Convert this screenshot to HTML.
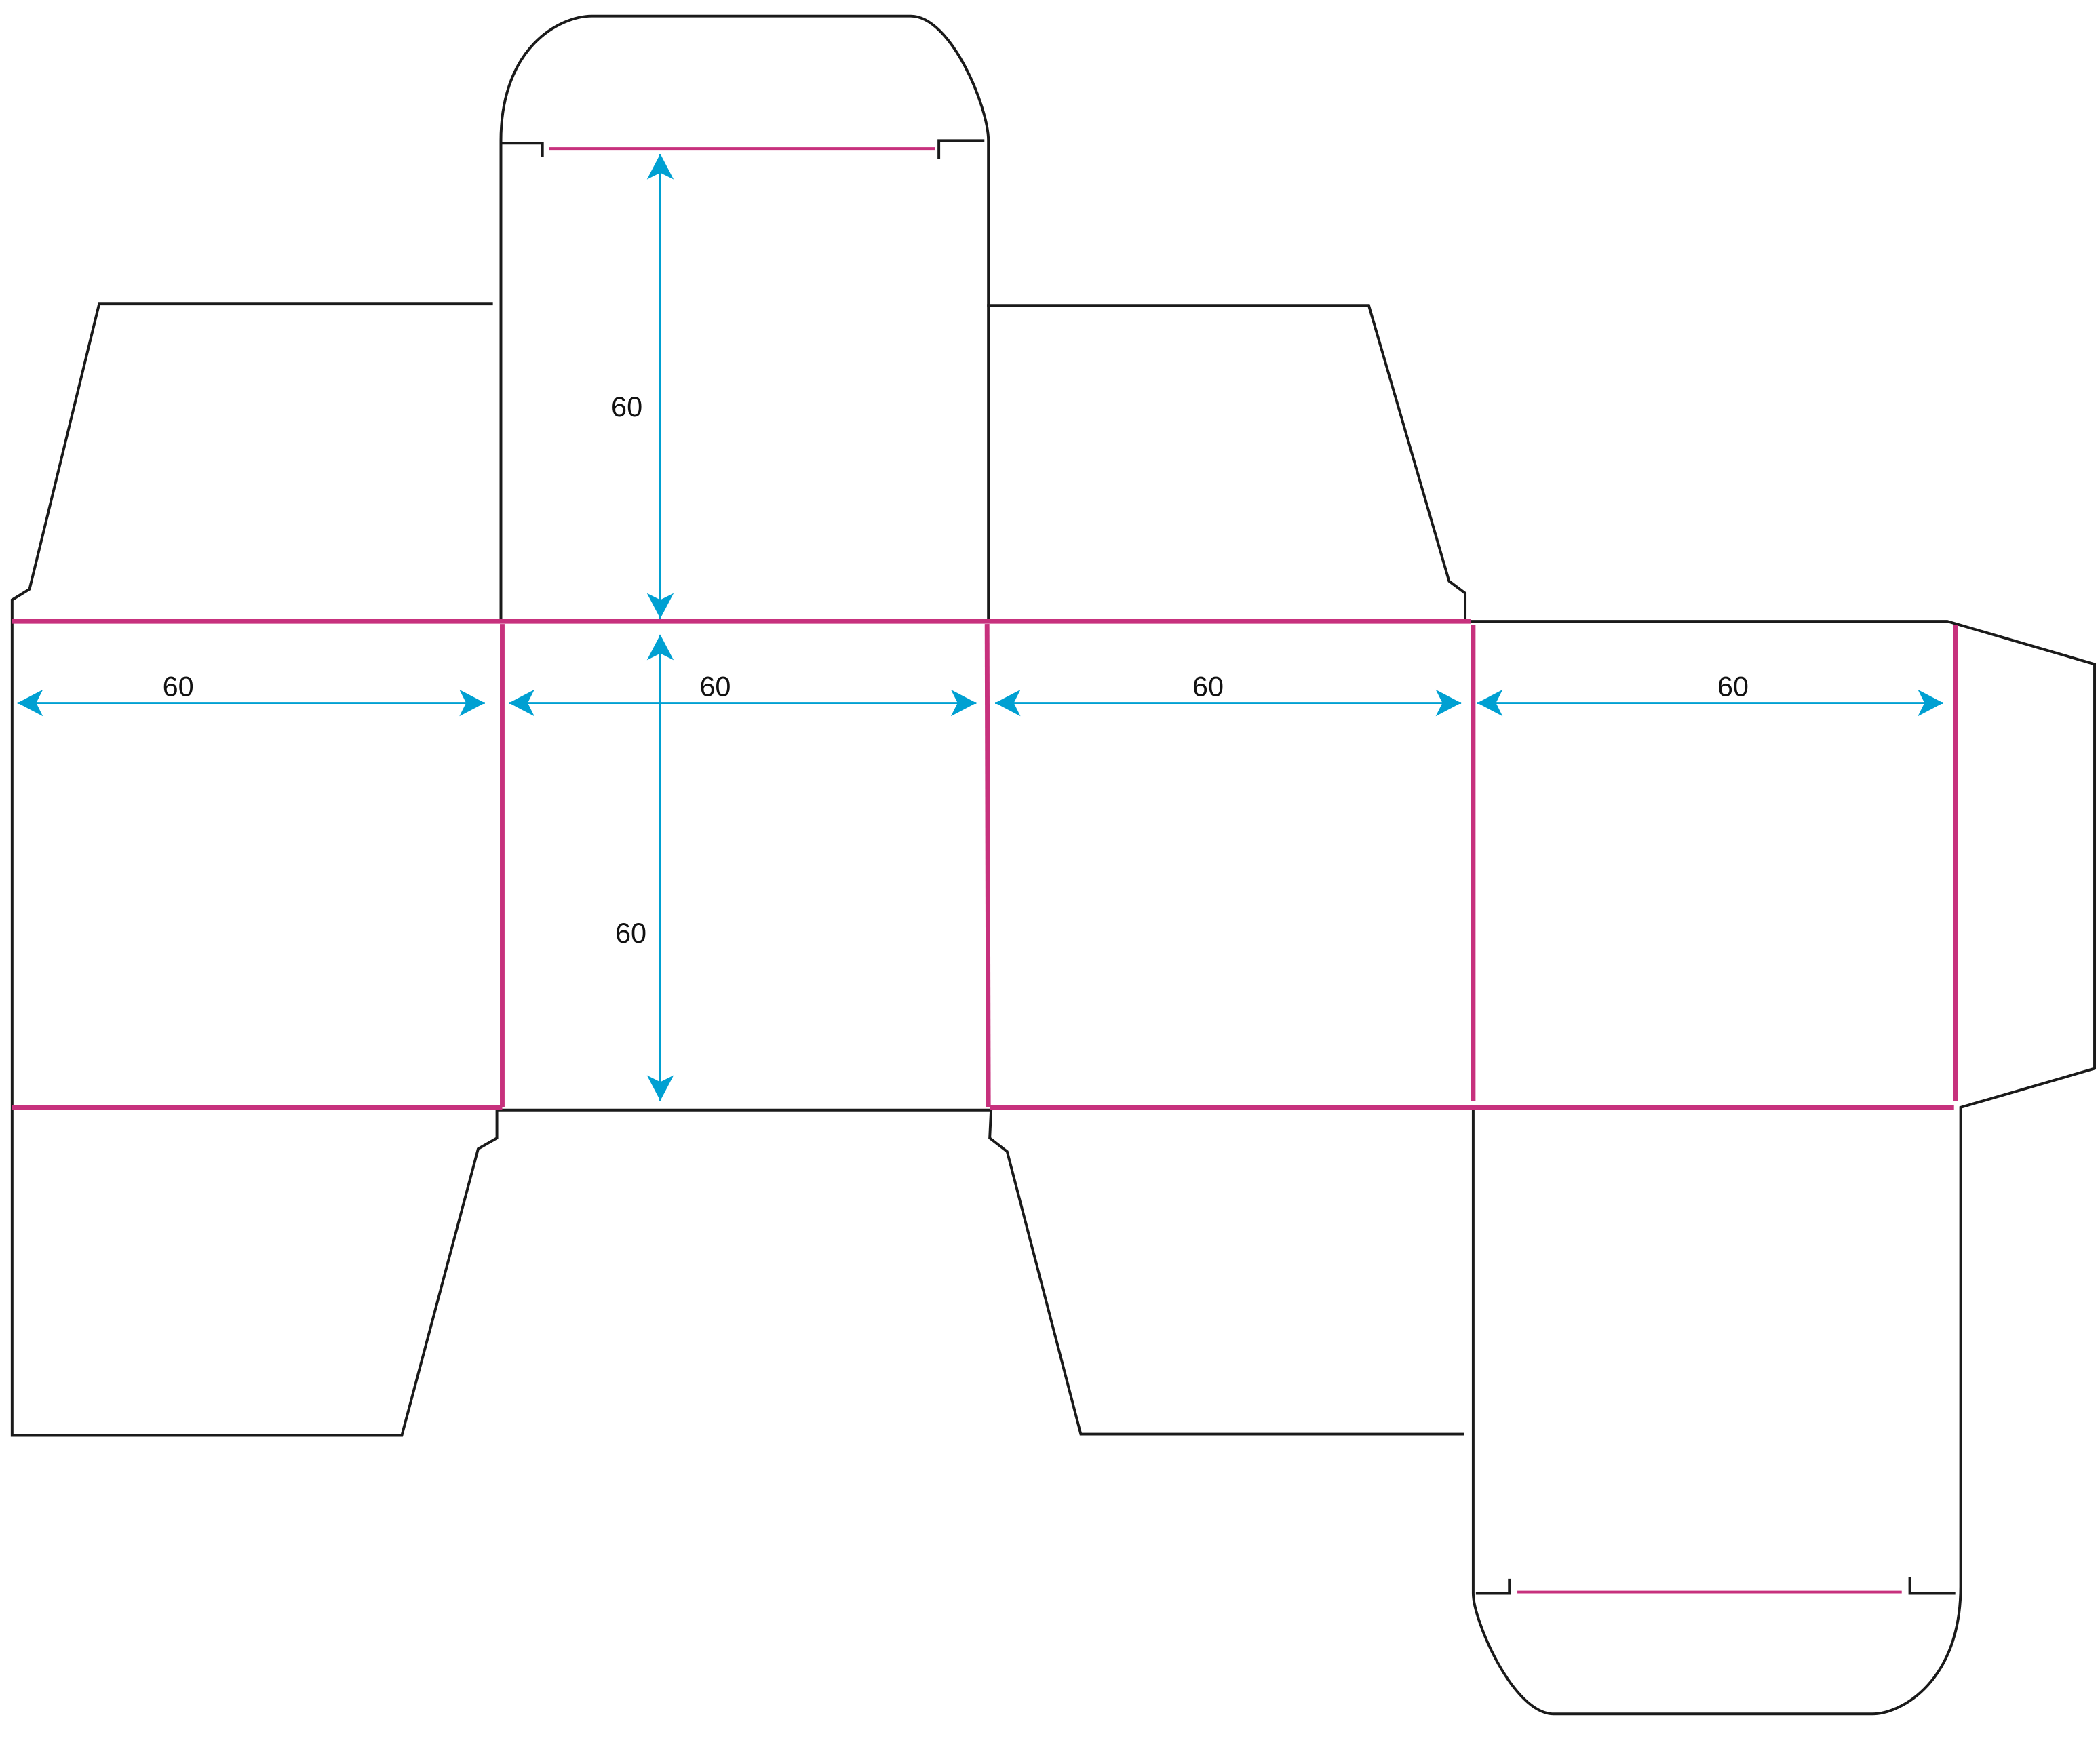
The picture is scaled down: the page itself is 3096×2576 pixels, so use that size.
<!DOCTYPE html>
<html><head><meta charset="utf-8"><style>
html,body{margin:0;padding:0;background:#fff;}
svg{display:block;}
text{font-family:"Liberation Sans","DejaVu Sans",sans-serif;font-size:21px;fill:#111;}
</style></head><body>
<svg width="3096" height="2576" viewBox="0 0 1568 1304.7" xmlns="http://www.w3.org/2000/svg">
<defs>
<marker id="a" viewBox="-20 -11 22 22" markerWidth="22" markerHeight="22" refX="0" refY="0" orient="auto-start-reverse" markerUnits="userSpaceOnUse">
<path d="M0,0 L-19,-10 L-14,0 L-19,10 Z" fill="#00a0d2"/>
</marker>
</defs>
<g fill="none" stroke="#1a1a1a" stroke-width="2">
<path d="M374,463 L374,105 C374,35 418,12 442,12 L680,12 C710,12 738,80 738,105 L738,463"/>
<path d="M374,107 L405,107 L405,117"/>
<path d="M701,119 L701,105 L735,105"/>
<path d="M368,227 L74,227 L22,440 L9,448 L9,1072 L300,1072 L357,858 L371,850 L371,829 L740,829 L739,850 L752,860 L807,1071 L1093,1071"/>
<path d="M737,228 L1022,228 L1082,434 L1094,443 L1094,463"/>
<path d="M1094,464 L1454,464 L1564,496 L1564,798 L1464,827 L1464,1185 C1464,1255 1420,1280 1398,1280 L1160,1280 C1130,1280 1100,1210 1100,1190 L1100,827"/>
<path d="M1102,1190 L1127,1190 L1127,1179"/>
<path d="M1426,1178 L1426,1190 L1460,1190"/>
</g>
<g fill="none" stroke="#c7317d">
<path d="M410,111 L698,111" stroke-width="2"/>
<path d="M1133,1189 L1420,1189" stroke-width="2"/>
<g stroke-width="3.5">
<path d="M9,464 L1098,464"/>
<path d="M375,466 L375,827"/>
<path d="M9,827 L375,827"/>
<path d="M737,466 L738,827"/>
<path d="M739,827 L1459,827"/>
<path d="M1100,467 L1100,822"/>
<path d="M1460,467 L1460,822"/>
</g>
</g>
<g stroke="#00a0d2" stroke-width="1.5" fill="none" marker-start="url(#a)" marker-end="url(#a)">
<path d="M493,115 L493,462"/>
<path d="M493,474 L493,822"/>
<path d="M13,525 L362,525"/>
<path d="M380,525 L729,525"/>
<path d="M743,525 L1091,525"/>
<path d="M1103,525 L1451,525"/>
</g>
<text x="468" y="311" text-anchor="middle">60</text>
<text x="471" y="704" text-anchor="middle">60</text>
<text x="133" y="520" text-anchor="middle">60</text>
<text x="534" y="520" text-anchor="middle">60</text>
<text x="902" y="520" text-anchor="middle">60</text>
<text x="1294" y="520" text-anchor="middle">60</text>
</svg>
</body></html>
